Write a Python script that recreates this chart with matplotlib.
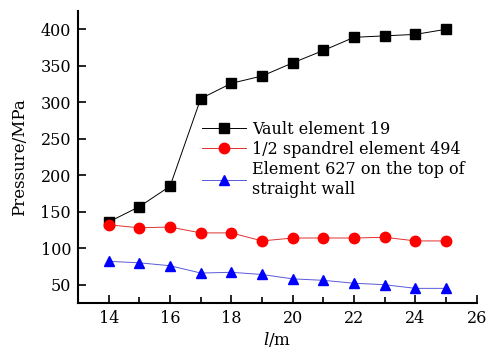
import matplotlib
matplotlib.use('Agg')
import matplotlib.pyplot as plt
from matplotlib.ticker import MultipleLocator

# lengths l (m) and pressure readings (MPa) for the three monitored elements
length = [14, 15, 16, 17, 18, 19, 20, 21, 22, 23, 24, 25]
vault_19 = [136, 157, 185, 305, 326, 336, 354, 371, 389, 391, 393, 400]
spandrel_494 = [132, 128, 129, 121, 121, 110, 114, 114, 114, 115, 110, 110]
wall_627 = [82, 80, 76, 66, 67, 64, 58, 56, 52, 50, 45, 45]

labels = ["Vault element 19",
          "1/2 spandrel element 494",
          "Element 627 on the top of\nstraight wall"]

plt.rcParams['font.family'] = ['DejaVu Serif']
plt.rcParams['mathtext.fontset'] = 'dejavuserif'

fig = plt.figure(figsize=(4.91, 3.56), dpi=100)
ax = fig.add_axes([0.159, 0.149, 0.812, 0.82])

ax.plot(length, vault_19, color='black', lw=0.7, marker='s', ms=7,
        mfc='black', mec='black', label=labels[0])
ax.plot(length, spandrel_494, color='#e03030', lw=0.7, marker='o', ms=7.5,
        mfc='red', mec='red', label=labels[1])
ax.plot(length, wall_627, color='#5a5ad8', lw=0.7, marker='^', ms=6.5,
        mfc='blue', mec='blue', label=labels[2])

ax.set_xlim(13, 26)
ax.set_ylim(25, 425)
ax.xaxis.set_major_locator(MultipleLocator(2))
ax.xaxis.set_minor_locator(MultipleLocator(1))
ax.set_yticks(range(50, 401, 50))

for side in ('top', 'right'):
    ax.spines[side].set_visible(False)
for side in ('left', 'bottom'):
    ax.spines[side].set_linewidth(1.5)

ax.tick_params(which='major', direction='in', length=6, width=1.2,
               labelsize=11.5, pad=5)
ax.tick_params(which='minor', direction='in', length=4, width=1.2)
ax.tick_params(axis='y', which='minor', left=False)

ax.set_xlabel(r'$\mathit{l}$/m', fontsize=12, labelpad=2)
ax.set_ylabel('Pressure/MPa', fontsize=12, labelpad=9)

ax.legend(loc='upper left', bbox_to_anchor=(0.29, 0.652), frameon=False,
          fontsize=11.5, handlelength=2.8, handletextpad=0.35,
          labelspacing=0.2, borderpad=0)

fig.savefig('out.png', dpi=100)
